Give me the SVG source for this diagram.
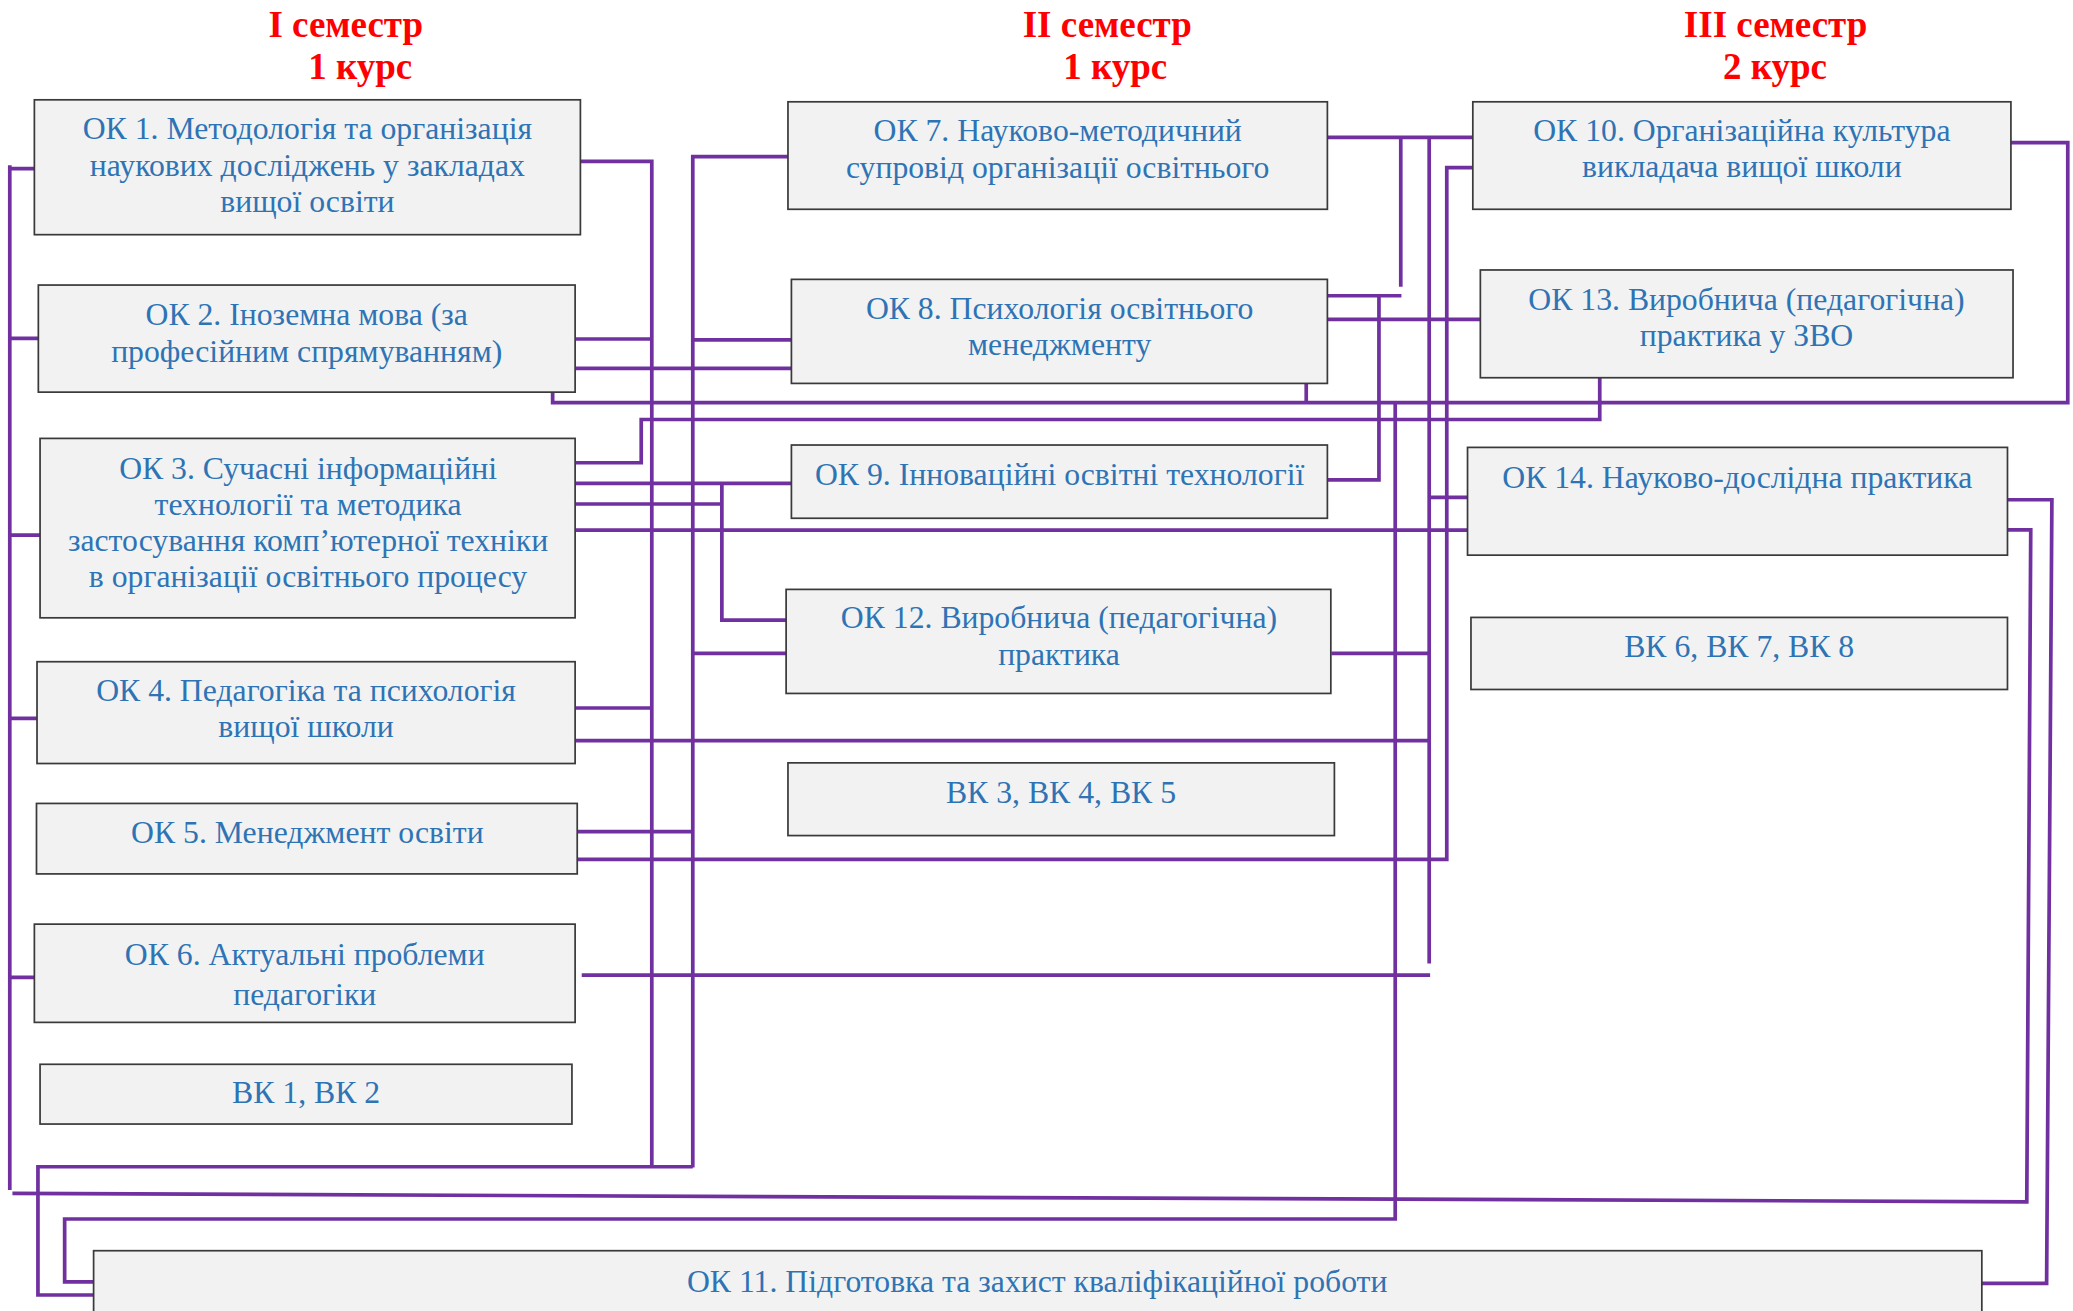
<svg xmlns="http://www.w3.org/2000/svg" width="2073" height="1311" viewBox="0 0 2073 1311">
<style>
.box{fill:#f2f2f2;stroke:#3a3a3a;stroke-width:1.3}
.t{font-family:"Liberation Serif","Times New Roman",serif;font-size:24px;fill:#2e74b5;text-anchor:middle}
.h{font-family:"Liberation Serif","Times New Roman",serif;font-weight:bold;font-size:28px;fill:#ff0000;text-anchor:middle}
.c{fill:none;stroke:#7030a0;stroke-width:2.8;stroke-linejoin:miter}
</style>
<rect width="2073" height="1311" fill="#ffffff"/>
<g transform="scale(1.3221)">
<g id="headers">
<text class="h" x="261.5" y="28">I семестр</text>
<text class="h" x="272.5" y="59.5">1 курс</text>
<text class="h" x="837.5" y="28">II семестр</text>
<text class="h" x="843.5" y="59.5">1 курс</text>
<text class="h" x="1343" y="28">III семестр</text>
<text class="h" x="1342.5" y="59.5">2 курс</text>
</g>
<g id="connectors">
<path class="c" d="M7.4,125 V900 M7.4,127.5 H26 M7.4,256 H29 M7.4,404.7 H30.3 M7.4,543.4 H28 M7.4,739.3 H26"/>
<path class="c" d="M439,122 H493 V883"/>
<path class="c" d="M596,118.5 H524 V883"/>
<path class="c" d="M70.8,979.5 H28.7 V882.5 H524"/>
<path class="c" d="M435,256.4 H493"/>
<path class="c" d="M524,257 H598.6"/>
<path class="c" d="M435,278.6 H598.6"/>
<path class="c" d="M418,297 V304.5 H1564 V107.9 H1521"/>
<path class="c" d="M988,289.5 V304.5"/>
<path class="c" d="M435,350 H485 V317.3 H1210 V285.7"/>
<path class="c" d="M435,365.6 H599"/>
<path class="c" d="M435,381.2 H546 M546,365.6 V469 H594.6"/>
<path class="c" d="M435,401 H1110"/>
<path class="c" d="M435,535.5 H493"/>
<path class="c" d="M435,560.2 H1081"/>
<path class="c" d="M437,629 H524"/>
<path class="c" d="M437,650 H1094.3 V126.8 H1114"/>
<path class="c" d="M440,737.5 H1081.7"/>
<path class="c" d="M524,494.2 H594.6"/>
<path class="c" d="M1007,494.2 H1081"/>
<path class="c" d="M1004,103.9 H1114"/>
<path class="c" d="M1059.5,103.9 V216.8"/>
<path class="c" d="M1081,103.9 V728.7"/>
<path class="c" d="M1004,223.7 H1060"/>
<path class="c" d="M1004,363 H1043 V223.7"/>
<path class="c" d="M1004,241.5 H1120"/>
<path class="c" d="M1055.3,304.5 V922 H48.9 V969.5 H70.8"/>
<path class="c" d="M1081,376.2 H1110"/>
<path class="c" d="M1518.4,378 H1552 L1548,970.7 H1499"/>
<path class="c" d="M1518.4,400.8 H1536 L1533,909 L9.4,902.7"/>
</g>
<g id="ok1"><rect class="box" x="26" y="75.5" width="413" height="102"/>
<text class="t" x="232.5" y="105">ОК 1. Методологія та організація</text>
<text class="t" x="232.5" y="133">наукових досліджень у закладах</text>
<text class="t" x="232.5" y="160.5">вищої освіти</text></g>
<g id="ok2"><rect class="box" x="29" y="215.6" width="406" height="81"/>
<text class="t" x="232" y="246">ОК 2. Іноземна мова (за</text>
<text class="t" x="232" y="273.6">професійним спрямуванням)</text></g>
<g id="ok3"><rect class="box" x="30.3" y="331.6" width="404.7" height="135.7"/>
<text class="t" x="233" y="362">ОК 3. Сучасні інформаційні</text>
<text class="t" x="233" y="389.6">технології та методика</text>
<text class="t" x="233" y="416.5">застосування комп’ютерної техніки</text>
<text class="t" x="233" y="444">в організації освітнього процесу</text></g>
<g id="ok4"><rect class="box" x="28" y="500.5" width="407" height="77"/>
<text class="t" x="231.5" y="530">ОК 4. Педагогіка та психологія</text>
<text class="t" x="231.5" y="557.5">вищої школи</text></g>
<g id="ok5"><rect class="box" x="27.6" y="607.7" width="409" height="53.3"/>
<text class="t" x="232.5" y="638">ОК 5. Менеджмент освіти</text></g>
<g id="ok6"><rect class="box" x="26" y="699" width="409" height="74.3"/>
<text class="t" x="230.5" y="730">ОК 6. Актуальні проблеми</text>
<text class="t" x="230.5" y="760.5">педагогіки</text></g>
<g id="vk12"><rect class="box" x="30.3" y="805" width="402.3" height="45.2"/>
<text class="t" x="231.5" y="834.6">ВК 1, ВК 2</text></g>
<g id="ok7"><rect class="box" x="596" y="77" width="408" height="81.3"/>
<text class="t" x="800" y="107">ОК 7. Науково-методичний</text>
<text class="t" x="800" y="135">супровід організації освітнього</text></g>
<g id="ok8"><rect class="box" x="598.6" y="211.3" width="405.4" height="78.7"/>
<text class="t" x="801.5" y="241.5">ОК 8. Психологія освітнього</text>
<text class="t" x="801.5" y="268.5">менеджменту</text></g>
<g id="ok9"><rect class="box" x="598.6" y="336.6" width="405.4" height="55.4"/>
<text class="t" x="801.5" y="367">ОК 9. Інноваційні освітні технології</text></g>
<g id="ok12"><rect class="box" x="594.6" y="445.8" width="412" height="78.7"/>
<text class="t" x="801" y="475.3">ОК 12. Виробнича (педагогічна)</text>
<text class="t" x="801" y="503">практика</text></g>
<g id="vk345"><rect class="box" x="596" y="577" width="413.3" height="55"/>
<text class="t" x="802.5" y="607.7">ВК 3, ВК 4, ВК 5</text></g>
<g id="ok10"><rect class="box" x="1114" y="77" width="407" height="81.3"/>
<text class="t" x="1317.5" y="107">ОК 10. Організаційна культура</text>
<text class="t" x="1317.5" y="133.6">викладача вищої школи</text></g>
<g id="ok13"><rect class="box" x="1119.7" y="204.2" width="402.9" height="81.5"/>
<text class="t" x="1321" y="234.5">ОК 13. Виробнича (педагогічна)</text>
<text class="t" x="1321" y="262">практика у ЗВО</text></g>
<g id="ok14"><rect class="box" x="1110" y="338.4" width="408.4" height="81.5"/>
<text class="t" x="1314" y="369.4">ОК 14. Науково-дослідна практика</text></g>
<g id="vk678"><rect class="box" x="1112.6" y="467" width="405.8" height="54.5"/>
<text class="t" x="1315.5" y="496.8">ВК 6, ВК 7, ВК 8</text></g>
<g id="ok11"><rect class="box" x="70.8" y="946" width="1428.2" height="60"/>
<text class="t" x="784.5" y="977">ОК 11. Підготовка та захист кваліфікаційної роботи</text></g>
</g>
</svg>
